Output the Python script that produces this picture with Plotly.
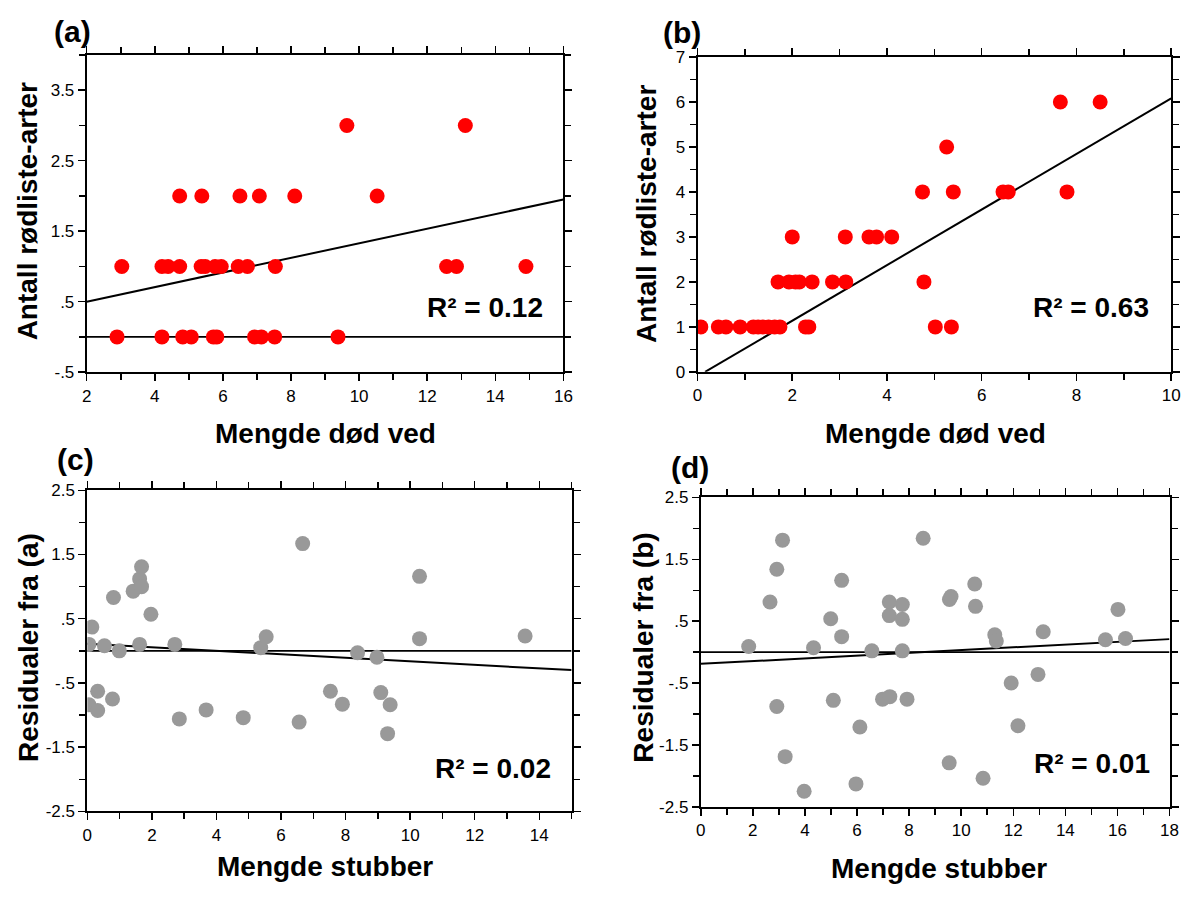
import plotly.graph_objects as go

W, H = 1197, 899

# ---------------- data ----------------
# (a) Antall rødliste-arter vs Mengde død ved
a_x = [2.89, 4.21, 4.82, 5.07, 5.72, 5.82, 6.93, 7.13, 7.52, 9.38,
       3.03, 4.21, 4.39, 4.73, 5.36, 5.48, 5.77, 5.95, 6.45, 6.72, 7.54, 12.57, 12.86, 14.9,
       4.73, 5.38, 6.5, 7.07, 8.11, 10.53,
       9.64, 13.12]
a_y = [0] * 10 + [1] * 14 + [2] * 6 + [3] * 2
a_fit_x = [2, 16]
a_fit_y = [0.5, 1.95]

# (b)
b_x = [0.07, 0.44, 0.6, 0.9, 1.18, 1.28, 1.38, 1.5, 1.63, 1.74, 2.28, 2.35, 5.02, 5.36,
       1.7, 1.93, 2.07, 2.15, 2.42, 2.85, 3.13, 4.78,
       2.0, 3.12, 3.62, 3.78, 4.1,
       4.75, 5.4, 6.45, 6.56, 7.8,
       5.26,
       7.66, 8.5]
b_y = [1] * 14 + [2] * 8 + [3] * 5 + [4] * 5 + [5] * 1 + [6] * 2
b_fit_x = [0.16, 10]
b_fit_y = [0, 6.08]

# (c) residuals from (a) vs Mengde stubber
c_x = [0.05, 0.14, 0.05, 0.32, 0.32, 0.53, 0.81, 0.78, 0.99, 1.42, 1.62, 1.62, 1.68, 1.68,
       1.97, 2.71, 2.85, 3.68, 4.83, 5.37, 5.54, 6.56, 6.67, 7.53, 7.9, 8.37, 8.97, 9.09,
       9.38, 9.3, 10.29, 10.29, 13.56]
c_y = [0.10, 0.37, -0.84, -0.93, -0.63, 0.08, 0.83, -0.75, 0.0, 0.93, 0.10, 1.12, 1.31, 1.0,
       0.57, 0.10, -1.06, -0.92, -1.04, 0.05, 0.22, -1.11, 1.67, -0.63, -0.83, -0.03, -0.10, -0.65,
       -0.84, -1.29, 1.16, 0.19, 0.23]
c_fit_x = [0, 15]
c_fit_y = [0.11, -0.30]

# (d) residuals from (b) vs Mengde stubber
d_x = [1.84, 2.66, 2.92, 3.14, 2.92, 3.24, 3.97, 4.33, 4.99, 5.09, 5.41, 5.41, 6.11, 5.96,
       6.57, 6.98, 7.24, 7.24, 7.26, 7.74, 7.74, 7.74, 7.92, 8.54, 9.55, 9.61, 9.54, 10.52,
       10.55, 10.84, 11.29, 11.35, 11.92, 12.18, 12.95, 13.15, 15.54, 16.02, 16.31]
d_y = [0.09, 0.81, 1.34, 1.81, -0.88, -1.69, -2.25, 0.07, 0.54, -0.78, 1.16, 0.25, -1.21, -2.13,
       0.02, -0.76, 0.81, 0.59, -0.72, 0.77, 0.53, 0.02, -0.76, 1.84, 0.85, 0.90, -1.79, 1.10,
       0.74, -2.04, 0.28, 0.18, -0.50, -1.19, -0.36, 0.33, 0.20, 0.69, 0.22]
d_fit_x = [0, 18]
d_fit_y = [-0.19, 0.21]

r2_labels = ["R² = 0.12", "R² = 0.63", "R² = 0.02", "R² = 0.01"]
panel_labels = ["(a)", "(b)", "(c)", "(d)"]
x_titles = ["Mengde død ved", "Mengde død ved", "Mengde stubber", "Mengde stubber"]
y_titles = ["Antall rødliste-arter", "Antall rødliste-arter", "Residualer fra (a)", "Residualer fra (b)"]

a_yticks = [-0.5, 0.5, 1.5, 2.5, 3.5]
a_yticktext = ["-.5", ".5", "1.5", "2.5", "3.5"]
res_yticks = [-2.5, -1.5, -0.5, 0.5, 1.5, 2.5]
res_yticktext = ["-2.5", "-1.5", "-.5", ".5", "1.5", "2.5"]

# ---------------- layout geometry (pixels) ----------------
def px_x(p):
    return p / W

def px_y(p):
    return 1 - p / H

boxes = {
    "a": (82.7, 565.0, 47.0, 371.0),
    "b": (700.7, 1180.0, 49.0, 370.7),
    "c": (83.3, 573.3, 491.7, 819.7),
    "d": (704.0, 1178.3, 499.0, 815.0),
}

RED = "#ff0000"
GRAY = "#999999"
TICKFONT = dict(family="Liberation Sans, Arial, sans-serif", size=17, color="black")
TITLEFONT = dict(family="Liberation Sans, Arial, sans-serif", size=28, color="black")

fig = go.Figure()

panels = [
    ("a", a_x, a_y, a_fit_x, a_fit_y, RED, [2, 16], [-0.5, 4.0], True),
    ("b", b_x, b_y, b_fit_x, b_fit_y, RED, [0, 10], [0, 7], False),
    ("c", c_x, c_y, c_fit_x, c_fit_y, GRAY, [0, 15], [-2.5, 2.5], True),
    ("d", d_x, d_y, d_fit_x, d_fit_y, GRAY, [0, 18], [-2.5, 2.5], True),
]

for i, (key, xs, ys, fx, fy, col, xr, yr, zero) in enumerate(panels):
    n = i + 1
    xa = "x" if n == 1 else f"x{n}"
    ya = "y" if n == 1 else f"y{n}"
    if zero:
        fig.add_trace(go.Scatter(x=xr, y=[0, 0], mode="lines", xaxis=xa, yaxis=ya,
                                 line=dict(color="black", width=1.8), showlegend=False,
                                 hoverinfo="skip"))
    fig.add_trace(go.Scatter(x=fx, y=fy, mode="lines", xaxis=xa, yaxis=ya,
                             line=dict(color="black", width=2), showlegend=False,
                             hoverinfo="skip"))
    fig.add_trace(go.Scatter(x=xs, y=ys, mode="markers", xaxis=xa, yaxis=ya,
                             marker=dict(color=col, size=15, line=dict(width=0)),
                             showlegend=False))

    l, r, t, b = boxes[key]
    xkey = "xaxis" if n == 1 else f"xaxis{n}"
    ykey = "yaxis" if n == 1 else f"yaxis{n}"
    xaxis = dict(domain=[px_x(l), px_x(r)], range=xr, anchor=ya,
                 tickmode="linear", tick0=0, dtick=2,
                 ticks="outside", ticklen=7, tickwidth=1.5, tickcolor="black",
                 minor=dict(dtick=1, tick0=0, ticks="outside", ticklen=6, tickwidth=1.5, tickcolor="black"),
                 showline=True, linewidth=2, linecolor="black", mirror="ticks",
                 showgrid=False, zeroline=False, tickfont=TICKFONT, fixedrange=True)
    if key == "a":
        yaxis = dict(tickmode="array", tickvals=a_yticks, ticktext=a_yticktext)
    elif key == "b":
        yaxis = dict(tickmode="linear", tick0=0, dtick=1)
    else:
        yaxis = dict(tickmode="array", tickvals=res_yticks, ticktext=res_yticktext)
    yaxis.update(domain=[px_y(b), px_y(t)], range=yr, anchor=xa,
                 ticks="outside", ticklen=7, tickwidth=1.5, tickcolor="black",
                 minor=dict(ticks="outside", ticklen=6, tickwidth=1.5, tickcolor="black",
                            dtick=0.5, tick0=0),
                 showline=True, linewidth=2, linecolor="black", mirror="ticks",
                 showgrid=False, zeroline=False, tickfont=TICKFONT, fixedrange=True)
    fig.layout[xkey] = xaxis
    fig.layout[ykey] = yaxis

# ---------------- text ----------------
ann = []
label_pos = [(68, 23), (685, 24), (71, 460), (693, 468)]
for txt, (x, y) in zip(panel_labels, label_pos):
    ann.append(dict(text=f"<b>{txt}</b>", x=px_x(x), y=px_y(y), xref="paper", yref="paper",
                    xanchor="center", yanchor="middle", showarrow=False,
                    font=dict(family=TITLEFONT["family"], size=30, color="black")))

xt_pos = [(324, 434), (942, 434), (324, 876), (945, 878)]
for txt, (x, y) in zip(x_titles, xt_pos):
    ann.append(dict(text=f"<b>{txt}</b>", x=px_x(x), y=px_y(y), xref="paper", yref="paper",
                    xanchor="center", yanchor="middle", showarrow=False, font=TITLEFONT))

yt_pos = [(23, 207), (649, 209), (23, 652), (646, 652)]
for txt, (x, y) in zip(y_titles, yt_pos):
    ann.append(dict(text=f"<b>{txt}</b>", x=px_x(x), y=px_y(y), xref="paper", yref="paper",
                    xanchor="center", yanchor="middle", showarrow=False, textangle=-90,
                    font=TITLEFONT))

r2_pos = [(546, 305), (1160, 305), (554, 776), (1161, 771)]
for txt, (x, y) in zip(r2_labels, r2_pos):
    ann.append(dict(text=f"<b>{txt}</b>", x=px_x(x), y=px_y(y), xref="paper", yref="paper",
                    xanchor="right", yanchor="middle", showarrow=False, font=TITLEFONT))

fig.update_layout(width=W, height=H, margin=dict(l=0, r=0, t=0, b=0),
                  paper_bgcolor="white", plot_bgcolor="white", annotations=ann,
                  showlegend=False)

fig.write_html("out.html", config={"displayModeBar": False, "staticPlot": True},
               post_script="document.body.style.margin='0px';document.body.style.overflow='hidden';")
